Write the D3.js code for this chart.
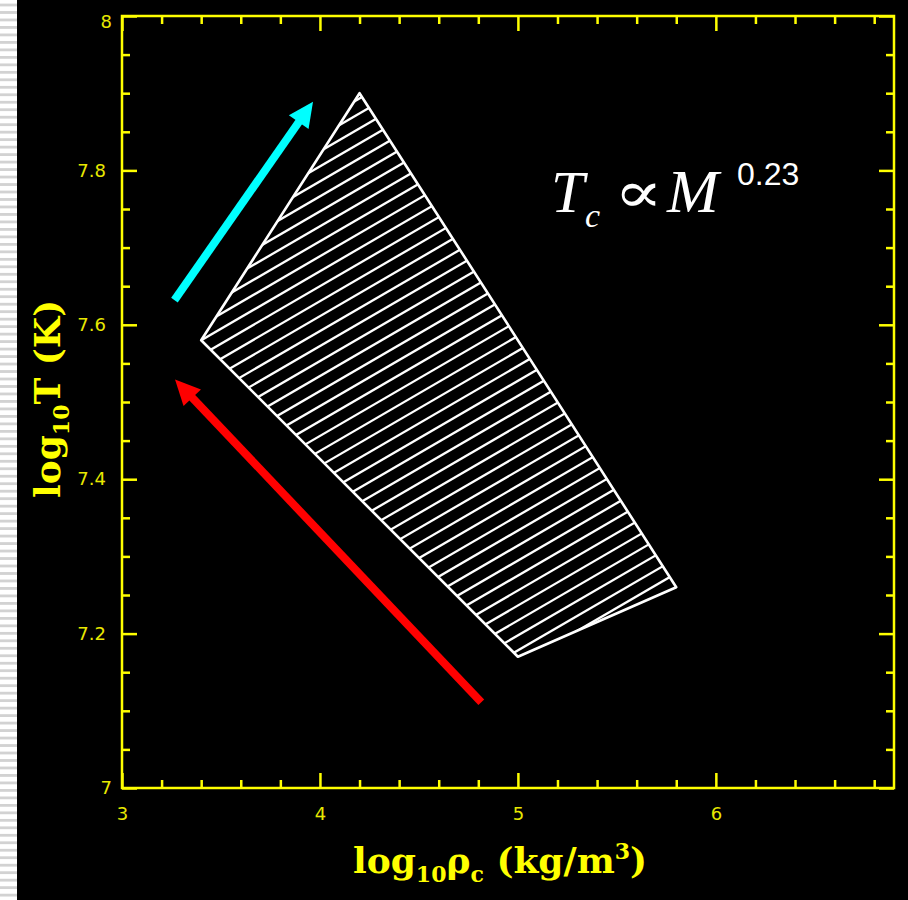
<!DOCTYPE html>
<html>
<head>
<meta charset="utf-8">
<script src="https://cdn.jsdelivr.net/npm/d3@7"></script>
<style>
  html, body { margin: 0; padding: 0; background: #fff; }
  svg { display: block; }
</style>
</head>
<body>
<svg id="chart" width="908" height="900"></svg>
<script>
// ---- Axis ranges and tick values ------------------------------------------
const xDomain = [3, 6.9];            // log10 rho_c (kg/m^3)
const yDomain = [7, 8];              // log10 T (K)
const xMajorTicks = [3, 4, 5, 6];
const xTickLabels = ["3", "4", "5", "6"];
const yMajorTicks = [7, 7.2, 7.4, 7.6, 7.8, 8];
const yTickLabels = ["7", "7.2", "7.4", "7.6", "7.8", "8"];

// ---- Region of central conditions (quadrilateral, hatched) ---------------
const regionRho = [4.2, 5.8, 5.0, 3.4];
const regionT   = [7.90, 7.26, 7.17, 7.58];

// ---- Arrows: start and end points in data units ---------------------------
const arrowRhoStart = [3.265, 4.815];
const arrowTStart   = [7.632, 7.111];
const arrowRhoEnd   = [3.965, 3.268];
const arrowTEnd     = [7.889, 7.529];

// ---- Hatching of the region (data-space slope and spacing) ---------------
const hatchSlope = 0.149;
const hatchStep = 0.0194;

// ---- Styles ---------------------------------------------------------------
const yellow = "#ffff00";
const labelYellow = "#e8e800";
const arrowColors = ["#00ffff", "#ff0000"];

const svg = d3.select("#chart");
const W = 908, H = 900;
const plot = { left: 122, right: 894, top: 16, bottom: 788 };

// Slide margin with pale stripes, then black panel
const defs = svg.append("defs");
const stripes = defs.append("pattern")
  .attr("id", "stripes").attr("patternUnits", "userSpaceOnUse")
  .attr("x", 0).attr("y", 3.6).attr("width", 20).attr("height", 7.48);
stripes.append("rect").attr("width", 20).attr("height", 7.48).attr("fill", "#ffffff");
stripes.append("rect").attr("width", 20).attr("height", 2.8).attr("fill", "#d2d2d2");
svg.append("rect").attr("x", 0).attr("y", 0).attr("width", 17).attr("height", H).attr("fill", "url(#stripes)");
svg.append("rect").attr("x", 17).attr("y", 0).attr("width", W - 17).attr("height", H).attr("fill", "#000");

const x = d3.scaleLinear().domain(xDomain).range([plot.left, plot.right]);
const y = d3.scaleLinear().domain(yDomain).range([plot.bottom, plot.top]);

const round = v => Math.round(v * 1000) / 1000;
const xMinorTicks = d3.range(xDomain[0], xDomain[1] + 1e-9, 0.2).map(round).filter(v => !xMajorTicks.includes(v) && v > xDomain[0] && v < xDomain[1]);
const yMinorTicks = d3.range(yDomain[0], yDomain[1] + 1e-9, 0.05).map(round).filter(v => !yMajorTicks.includes(v) && v > yDomain[0] && v < yDomain[1]);

function styleAxis(g) {
  g.attr("color", yellow);
  g.select(".domain").remove();
  g.selectAll(".tick line").attr("stroke-width", 2.5);
  g.selectAll("text")
    .attr("fill", labelYellow)
    .attr("font-family", "'DejaVu Sans', sans-serif")
    .attr("font-size", 18);
}

const axes = svg.append("g");
const majorLen = 15, minorLen = 8;

// bottom
axes.append("g").attr("transform", `translate(0,${plot.bottom})`)
  .call(d3.axisBottom(x).tickValues(xMajorTicks).tickSize(-majorLen).tickSizeOuter(0).tickPadding(19)
    .tickFormat((d, i) => xTickLabels[i]))
  .call(styleAxis);
axes.append("g").attr("transform", `translate(0,${plot.bottom})`)
  .call(d3.axisBottom(x).tickValues(xMinorTicks).tickSize(-minorLen).tickSizeOuter(0).tickFormat(""))
  .call(styleAxis);
// top
axes.append("g").attr("transform", `translate(0,${plot.top})`)
  .call(d3.axisTop(x).tickValues(xMajorTicks).tickSize(-majorLen).tickSizeOuter(0).tickFormat(""))
  .call(styleAxis);
axes.append("g").attr("transform", `translate(0,${plot.top})`)
  .call(d3.axisTop(x).tickValues(xMinorTicks).tickSize(-minorLen).tickSizeOuter(0).tickFormat(""))
  .call(styleAxis);
// left
const leftAxis = axes.append("g").attr("transform", `translate(${plot.left},0)`)
  .call(d3.axisLeft(y).tickValues(yMajorTicks).tickSize(-majorLen).tickSizeOuter(0).tickPadding(16)
    .tickFormat((d, i) => yTickLabels[i]))
  .call(styleAxis);
// whole-number labels sit a little closer to the axis, the top one slightly lower
leftAxis.selectAll(".tick text")
  .attr("dx", d => Number.isInteger(d) ? 6 : 0)
  .attr("dy", d => d === yDomain[1] ? "0.62em" : "0.32em");
axes.append("g").attr("transform", `translate(${plot.left},0)`)
  .call(d3.axisLeft(y).tickValues(yMinorTicks).tickSize(-minorLen).tickSizeOuter(0).tickFormat(""))
  .call(styleAxis);
// right
axes.append("g").attr("transform", `translate(${plot.right},0)`)
  .call(d3.axisRight(y).tickValues(yMajorTicks).tickSize(-majorLen).tickSizeOuter(0).tickFormat(""))
  .call(styleAxis);
axes.append("g").attr("transform", `translate(${plot.right},0)`)
  .call(d3.axisRight(y).tickValues(yMinorTicks).tickSize(-minorLen).tickSizeOuter(0).tickFormat(""))
  .call(styleAxis);

// frame
svg.append("rect")
  .attr("x", x(xDomain[0])).attr("y", y(yDomain[1]))
  .attr("width", x(xDomain[1]) - x(xDomain[0]))
  .attr("height", y(yDomain[0]) - y(yDomain[1]))
  .attr("fill", "none").attr("stroke", yellow).attr("stroke-width", 2.5);

// ---- Hatched region --------------------------------------------------------
const regionPts = regionRho.map((r, i) => [x(r), y(regionT[i])]);
const regionPath = "M" + regionPts.map(p => p.join(",")).join("L") + "Z";

defs.append("clipPath").attr("id", "regionClip")
  .append("path").attr("d", regionPath);

const anchorRho = regionRho[3], anchorT = regionT[3];
const intercepts = regionRho.map((r, i) => regionT[i] - hatchSlope * (r - anchorRho));
const kMin = Math.floor((d3.min(intercepts) - anchorT) / hatchStep) - 1;
const kMax = Math.ceil((d3.max(intercepts) - anchorT) / hatchStep) + 1;
const rhoLo = d3.min(regionRho) - 0.1, rhoHi = d3.max(regionRho) + 0.1;

const hatch = svg.append("g").attr("clip-path", "url(#regionClip)");
hatch.selectAll("line")
  .data(d3.range(kMin, kMax + 1))
  .join("line")
  .attr("x1", x(rhoLo))
  .attr("y1", k => y(anchorT + k * hatchStep + hatchSlope * (rhoLo - anchorRho)))
  .attr("x2", x(rhoHi))
  .attr("y2", k => y(anchorT + k * hatchStep + hatchSlope * (rhoHi - anchorRho)))
  .attr("stroke", "#ffffff").attr("stroke-width", 2.3);

svg.append("path").attr("d", regionPath)
  .attr("fill", "none").attr("stroke", "#ffffff")
  .attr("stroke-width", 2.6).attr("stroke-linejoin", "round");

// ---- Arrows ----------------------------------------------------------------
const headLen = 25, headHalf = 12, shaftW = 8;
arrowRhoStart.forEach((r0, i) => {
  const x0 = x(r0), y0 = y(arrowTStart[i]);
  const x1 = x(arrowRhoEnd[i]), y1 = y(arrowTEnd[i]);
  const len = Math.hypot(x1 - x0, y1 - y0);
  const ux = (x1 - x0) / len, uy = (y1 - y0) / len;
  const bx = x1 - ux * headLen, by = y1 - uy * headLen;
  const g = svg.append("g");
  g.append("line")
    .attr("x1", x0).attr("y1", y0).attr("x2", bx + ux * 2).attr("y2", by + uy * 2)
    .attr("stroke", arrowColors[i]).attr("stroke-width", shaftW).attr("stroke-linecap", "butt");
  g.append("path")
    .attr("d", `M${x1},${y1}L${bx - uy * headHalf},${by + ux * headHalf}L${bx + uy * headHalf},${by - ux * headHalf}Z`)
    .attr("fill", arrowColors[i]);
});

// ---- Scaling relation ------------------------------------------------------
const rel = svg.append("text").attr("y", 212).attr("fill", "#ffffff");
rel.append("tspan").attr("x", 551)
  .attr("font-family", "'Liberation Serif', serif").attr("font-style", "italic").attr("font-size", 60)
  .text("T");
rel.append("tspan").attr("x", 585).attr("dy", 15)
  .attr("font-family", "'Liberation Serif', serif").attr("font-style", "italic").attr("font-size", 34)
  .text("c");
rel.append("tspan").attr("x", 667).attr("dy", -15)
  .attr("font-family", "'Liberation Serif', serif").attr("font-style", "italic").attr("font-size", 62)
  .text("M");
rel.append("tspan").attr("x", 737).attr("dy", -27)
  .attr("font-family", "'Liberation Sans', sans-serif").attr("font-size", 32)
  .text("0.23");
// proportionality sign, widened to the relation's proportions
svg.append("text")
  .attr("transform", "translate(614,212) scale(1.25,1)")
  .attr("fill", "#ffffff")
  .attr("font-family", "'DejaVu Serif', serif").attr("font-size", 58)
  .text("∝");

// ---- Axis titles -----------------------------------------------------------
const titleFont = "'DejaVu Serif', serif";
const xt = svg.append("text")
  .attr("x", 353).attr("y", 873)
  .attr("fill", yellow).attr("font-family", titleFont).attr("font-weight", "bold").attr("font-size", 36);
xt.append("tspan").text("log");
xt.append("tspan").attr("font-size", 22).attr("dy", 9).text("10");
xt.append("tspan").attr("dy", -9).text("ρ");
xt.append("tspan").attr("font-size", 22).attr("dy", 9).text("c");
xt.append("tspan").attr("dy", -9).text(" (kg/m");
xt.append("tspan").attr("font-size", 22).attr("dy", -14).text("3");
xt.append("tspan").attr("dy", 14).text(")");

const yt = svg.append("text")
  .attr("transform", "translate(60,498) rotate(-90)")
  .attr("fill", yellow).attr("font-family", titleFont).attr("font-weight", "bold").attr("font-size", 36);
yt.append("tspan").text("log");
yt.append("tspan").attr("font-size", 22).attr("dy", 9).text("10");
yt.append("tspan").attr("dy", -9).text("T (K)");
</script>
</body>
</html>
